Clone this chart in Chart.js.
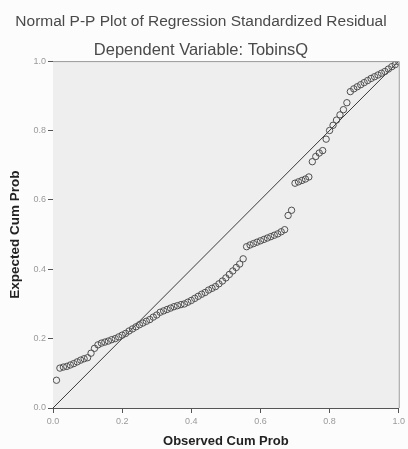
<!DOCTYPE html>
<html>
<head>
<meta charset="utf-8">
<script src="https://cdn.jsdelivr.net/npm/chart.js@4"></script>
<style>
html,body{margin:0;padding:0;background:#fbfcfb;}
#wrap{width:408px;height:449px;position:relative;}
</style>
</head>
<body>
<div id="wrap"><canvas id="c" width="408" height="449"></canvas></div>
<script>
const titleText = "Normal P-P Plot of Regression Standardized Residual";
const subtitleText = "Dependent Variable: TobinsQ";
const xAxisTitle = "Observed Cum Prob";
const yAxisTitle = "Expected Cum Prob";
const tickLabels = ["0.0", "0.2", "0.4", "0.6", "0.8", "1.0"];
const tickValues = [0, 0.2, 0.4, 0.6, 0.8, 1.0];

const observedCumProb = [
  0.01,0.02,0.03,0.04,0.05,0.06,0.07,0.08,0.09,0.10,
  0.11,0.12,0.13,0.14,0.15,0.16,0.17,0.18,0.19,0.20,
  0.21,0.22,0.23,0.24,0.25,0.26,0.27,0.28,0.29,0.30,
  0.31,0.32,0.33,0.34,0.35,0.36,0.37,0.38,0.39,0.40,
  0.41,0.42,0.43,0.44,0.45,0.46,0.47,0.48,0.49,0.50,
  0.51,0.52,0.53,0.54,0.55,0.56,0.57,0.58,0.59,0.60,
  0.61,0.62,0.63,0.64,0.65,0.66,0.67,0.68,0.69,0.70,
  0.71,0.72,0.73,0.74,0.75,0.76,0.77,0.78,0.79,0.80,
  0.81,0.82,0.83,0.84,0.85,0.86,0.87,0.88,0.89,0.90,
  0.91,0.92,0.93,0.94,0.95,0.96,0.97,0.98,0.99,1.00
];
const expectedCumProb = [
  0.080,0.115,0.118,0.120,0.124,0.128,0.133,0.138,0.142,0.145,
  0.158,0.172,0.182,0.187,0.190,0.193,0.197,0.200,0.205,0.210,
  0.215,0.222,0.228,0.234,0.240,0.245,0.250,0.255,0.262,0.268,
  0.276,0.280,0.284,0.288,0.292,0.295,0.298,0.300,0.305,0.310,
  0.316,0.322,0.328,0.333,0.340,0.345,0.350,0.358,0.366,0.375,
  0.385,0.395,0.405,0.415,0.430,0.465,0.470,0.474,0.478,0.482,
  0.486,0.490,0.494,0.498,0.502,0.508,0.514,0.555,0.570,0.648,
  0.652,0.656,0.660,0.666,0.710,0.725,0.735,0.742,0.775,0.800,
  0.815,0.830,0.845,0.860,0.880,0.912,0.920,0.926,0.932,0.938,
  0.944,0.950,0.955,0.960,0.965,0.970,0.977,0.984,0.990,0.998
];
const refLineX = [0, 1];
const refLineY = [0, 1];

const points = observedCumProb.map((x, i) => ({x: x, y: expectedCumProb[i]}));
const refLine = refLineX.map((x, i) => ({x: x, y: refLineY[i]}));

const plotFrame = {
  id: 'plotFrame',
  beforeDatasetsDraw(chart) {
    const {ctx, chartArea: a} = chart;
    ctx.save();
    ctx.fillStyle = '#eeeeee';
    ctx.fillRect(a.left, a.top, a.right - a.left, a.bottom - a.top);
    ctx.restore();
  },
  afterDraw(chart) {
    const {ctx, chartArea: a} = chart;
    ctx.save();
    ctx.strokeStyle = '#9a9a9a';
    ctx.lineWidth = 1;
    ctx.beginPath();
    ctx.moveTo(a.left, a.top + 0.5);
    ctx.lineTo(a.right + 0.5, a.top + 0.5);
    ctx.lineTo(a.right + 0.5, a.bottom);
    ctx.stroke();
    ctx.restore();
  }
};

const fmt = v => {
  const i = tickValues.findIndex(t => Math.abs(t - v) < 1e-6);
  return i >= 0 ? tickLabels[i] : '';
};

new Chart(document.getElementById('c'), {
  type: 'scatter',
  data: {
    datasets: [
      {
        type: 'line',
        data: refLine,
        borderColor: '#3a3a3a',
        borderWidth: 1,
        pointRadius: 0,
        fill: false,
        order: 2
      },
      {
        data: points,
        pointStyle: 'circle',
        pointRadius: 3.2,
        borderColor: '#505050',
        borderWidth: 1,
        backgroundColor: 'rgba(0,0,0,0)',
        order: 1
      }
    ]
  },
  options: {
    responsive: false,
    animation: false,
    devicePixelRatio: 1,
    layout: {padding: {left: 0, right: 6, top: 0, bottom: 0}},
    plugins: {
      legend: {display: false},
      tooltip: {enabled: false},
      title: {
        display: true,
        text: titleText,
        color: '#4a4a4a',
        font: {family: 'Liberation Sans, Arial, sans-serif', size: 15.5, weight: 'normal'},
        padding: {top: 12.7, bottom: 0}
      },
      subtitle: {
        display: true,
        text: subtitleText,
        color: '#4a4a4a',
        font: {family: 'Liberation Sans, Arial, sans-serif', size: 16.5, weight: 'normal'},
        padding: {top: 8.8, bottom: 1.2}
      }
    },
    scales: {
      x: {
        type: 'linear',
        min: 0, max: 1,
        afterFit(s) { s.height = 41; },
        afterBuildTicks(s) { s.ticks = tickValues.map(v => ({value: v})); },
        ticks: {
          callback: fmt,
          color: '#9a9a9a',
          font: {family: 'Liberation Sans, Arial, sans-serif', size: 9},
          padding: 3,
          maxRotation: 0
        },
        grid: {drawOnChartArea: false, tickLength: 5, color: '#555'},
        border: {color: '#555', width: 1},
        title: {
          display: true,
          text: xAxisTitle,
          color: '#222',
          font: {family: 'Liberation Sans, Arial, sans-serif', size: 13, weight: 'bold'},
          padding: {top: 0, bottom: 0}
        }
      },
      y: {
        type: 'linear',
        min: 0, max: 1,
        afterFit(s) { s.width = 53; },
        afterBuildTicks(s) { s.ticks = tickValues.map(v => ({value: v})); },
        ticks: {
          callback: fmt,
          color: '#9a9a9a',
          font: {family: 'Liberation Sans, Arial, sans-serif', size: 9},
          padding: 2
        },
        grid: {drawOnChartArea: false, tickLength: 5, color: '#555'},
        border: {color: '#555', width: 1},
        title: {
          display: true,
          text: yAxisTitle,
          color: '#222',
          font: {family: 'Liberation Sans, Arial, sans-serif', size: 13.5, weight: 'bold'},
          padding: {top: 7, bottom: 0}
        }
      }
    }
  },
  plugins: [plotFrame]
});
</script>
</body>
</html>
